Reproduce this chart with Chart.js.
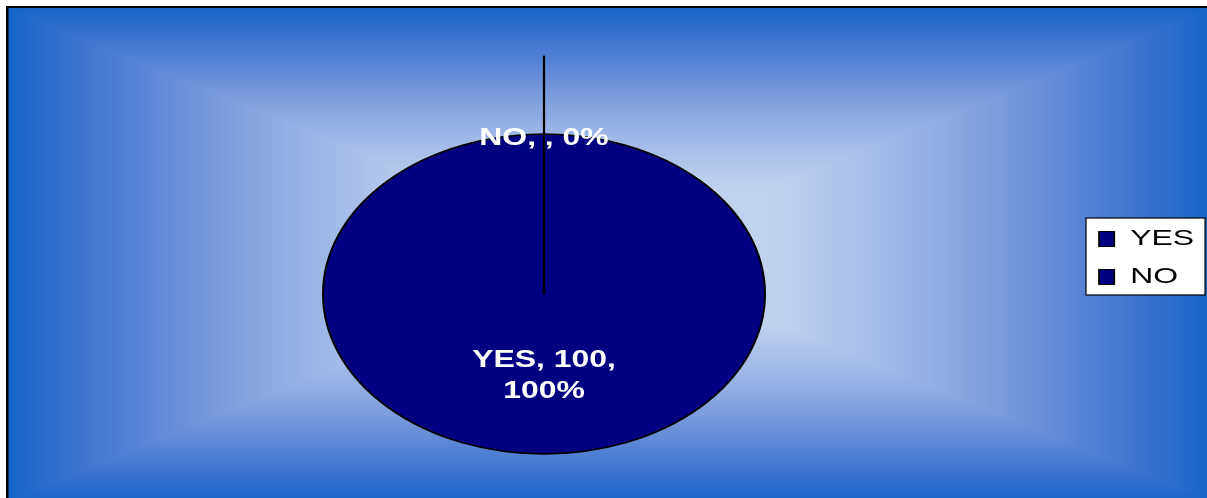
<!DOCTYPE html>
<html>
<head>
<meta charset="utf-8">
<script src="https://cdn.jsdelivr.net/npm/chart.js@4/dist/chart.umd.min.js"></script>
<style>
  html, body { margin: 0; padding: 0; background: #fff; }
  #chart { display: block; }
</style>
</head>
<body>
<canvas id="chart" width="1207" height="498"></canvas>
<script>
// données
const categories = ["YES", "NO"];
const values = [100, null];
const sliceColors = ["#000080", "#000080"];

const FONT = "'Liberation Sans', Arial, sans-serif";

// position / forme de l'ellipse (le camembert est étiré horizontalement)
const PIE_X = 544, PIE_Y = 294, PIE_RX = 221, PIE_RY = 160;
const TEXT_S = 1.33;   // étirement du texte des étiquettes
const LEG_X = 1099, LEG_S = 1.45;

const total = values.reduce((s, v) => s + (v || 0), 0);

// fond dégradé rectangulaire + cadre
const backgroundPlugin = {
  id: "bg",
  beforeDraw(chart) {
    const ctx = chart.ctx;
    const W = chart.width, H = chart.height;
    ctx.save();
    ctx.fillStyle = "#fff";
    ctx.fillRect(0, 0, W, H);

    const L = 8, T = 8, R = W + 4, B = H + 4;
    const cx = (L + R) / 2, cy = (T + B) / 2;
    const stops = [
      [0, "rgb(202,220,243)"],
      [0.3, "rgb(188,208,238)"],
      [0.53, "rgb(148,176,228)"],
      [0.72, "rgb(106,142,216)"],
      [0.88, "rgb(60,115,208)"],
      [1, "rgb(22,100,200)"]
    ];
    const grad = (x0, y0, x1, y1) => {
      const g = ctx.createLinearGradient(x0, y0, x1, y1);
      stops.forEach(s => g.addColorStop(s[0], s[1]));
      return g;
    };
    const tri = (pts, g) => {
      ctx.beginPath();
      ctx.moveTo(pts[0][0], pts[0][1]);
      ctx.lineTo(pts[1][0], pts[1][1]);
      ctx.lineTo(pts[2][0], pts[2][1]);
      ctx.closePath();
      ctx.fillStyle = g;
      ctx.strokeStyle = g;
      ctx.lineWidth = 1.5;
      ctx.fill();
      ctx.stroke();
    };
    ctx.save();
    ctx.beginPath();
    ctx.rect(L, T, R - L, B - T);
    ctx.clip();
    tri([[L, T], [L, B], [cx, cy]], grad(cx, 0, L, 0));
    tri([[R, T], [R, B], [cx, cy]], grad(cx, 0, R, 0));
    tri([[L, T], [R, T], [cx, cy]], grad(0, cy, 0, T));
    tri([[L, B], [R, B], [cx, cy]], grad(0, cy, 0, B));
    ctx.restore();

    ctx.fillStyle = "#000";
    ctx.fillRect(6, 6, W, 2);
    ctx.fillRect(6, 6, 2.5, H);

    // cadre blanc de la légende
    const lg = chart.legend;
    if (lg && lg.legendHitBoxes && lg.legendHitBoxes.length) {
      const hb = lg.legendHitBoxes;
      const x0 = hb[0].left;
      const maxR = Math.max(...hb.map(h => h.left + h.width));
      const bx = LEG_X - 13;
      const by = hb[0].top - 10;
      const bw = LEG_X + (maxR - x0) * LEG_S + 11 - bx;
      const bh = hb[hb.length - 1].top + hb[hb.length - 1].height + 7 - by;
      ctx.fillStyle = "#fff";
      ctx.fillRect(bx, by, bw, bh);
      ctx.strokeStyle = "#000";
      ctx.lineWidth = 1.2;
      ctx.strokeRect(bx, by, bw, bh);
    }
    ctx.restore();
  },
  afterLayout(chart) {
    const lg = chart.legend;
    if (lg && !lg._stretched) {
      const orig = lg.draw;
      lg.draw = function (...args) {
        const c = this.ctx;
        const x0 = this.legendHitBoxes.length ? this.legendHitBoxes[0].left : this.left;
        c.save();
        c.translate(LEG_X, 0);
        c.scale(LEG_S, 1);
        c.translate(-x0, 0);
        orig.apply(this, args);
        c.restore();
      };
      lg._stretched = true;
    }
  }
};

// transforme le cercle en ellipse
const ellipsePlugin = {
  id: "ellipse",
  beforeDatasetsDraw(chart) {
    const a = chart.getDatasetMeta(0).data[0];
    const r = a.outerRadius;
    const ctx = chart.ctx;
    ctx.save();
    ctx.translate(PIE_X, PIE_Y);
    ctx.scale(PIE_RX / r, PIE_RY / r);
    ctx.translate(-a.x, -a.y);
  },
  afterDatasetsDraw(chart) {
    chart.ctx.restore();
  }
};

// étiquettes de données + ligne de repère
const labelPlugin = {
  id: "labels",
  afterDraw(chart) {
    const ctx = chart.ctx;
    const arcs = chart.getDatasetMeta(0).data;
    ctx.save();
    arcs.forEach((a, i) => {
      const v = values[i];
      const pct = Math.round(((v || 0) / total) * 100);
      const mid = (a.startAngle + a.endAngle) / 2;
      let lines, k;
      if (v) {
        lines = [categories[i] + ", " + v + ",", pct + "%"];
        k = 0.51;
      } else {
        lines = [categories[i] + ", , " + pct + "%"];
        k = 0.97;
        // ligne de repère
        ctx.strokeStyle = "#000";
        ctx.lineWidth = 2.2;
        ctx.beginPath();
        ctx.moveTo(PIE_X, PIE_Y);
        ctx.lineTo(PIE_X + Math.cos(mid) * PIE_RX * 1.49, PIE_Y + Math.sin(mid) * PIE_RY * 1.49);
        ctx.stroke();
      }
      const x = PIE_X + Math.cos(mid) * PIE_RX * k;
      const y = PIE_Y + Math.sin(mid) * PIE_RY * k;
      ctx.fillStyle = "#fff";
      ctx.font = "bold 24px " + FONT;
      ctx.textAlign = "center";
      ctx.textBaseline = "middle";
      const lh = 31;
      lines.forEach((t, j) => {
        ctx.save();
        ctx.translate(x, y + (j - (lines.length - 1) / 2) * lh);
        ctx.scale(TEXT_S, 1);
        ctx.fillText(t, 0, 0);
        ctx.restore();
      });
    });
    ctx.restore();
  }
};

new Chart(document.getElementById("chart"), {
  type: "pie",
  data: {
    labels: categories,
    datasets: [{
      data: values,
      backgroundColor: sliceColors,
      borderColor: "#000",
      borderWidth: 2,
      clip: false
    }]
  },
  options: {
    responsive: false,
    animation: false,
    layout: { padding: { top: 37, bottom: 19, left: 10, right: 10 } },
    plugins: {
      tooltip: { enabled: false },
      legend: {
        position: "right",
        labels: {
          font: { family: FONT, size: 22 },
          color: "#000",
          boxWidth: 10.5,
          boxHeight: 15,
          padding: 16,
          generateLabels: () => categories.map((c, i) => ({
            text: c,
            fillStyle: sliceColors[i],
            strokeStyle: "#000",
            lineWidth: 1.2,
            hidden: false,
            index: i
          }))
        }
      }
    }
  },
  plugins: [backgroundPlugin, ellipsePlugin, labelPlugin]
});
</script>
</body>
</html>
